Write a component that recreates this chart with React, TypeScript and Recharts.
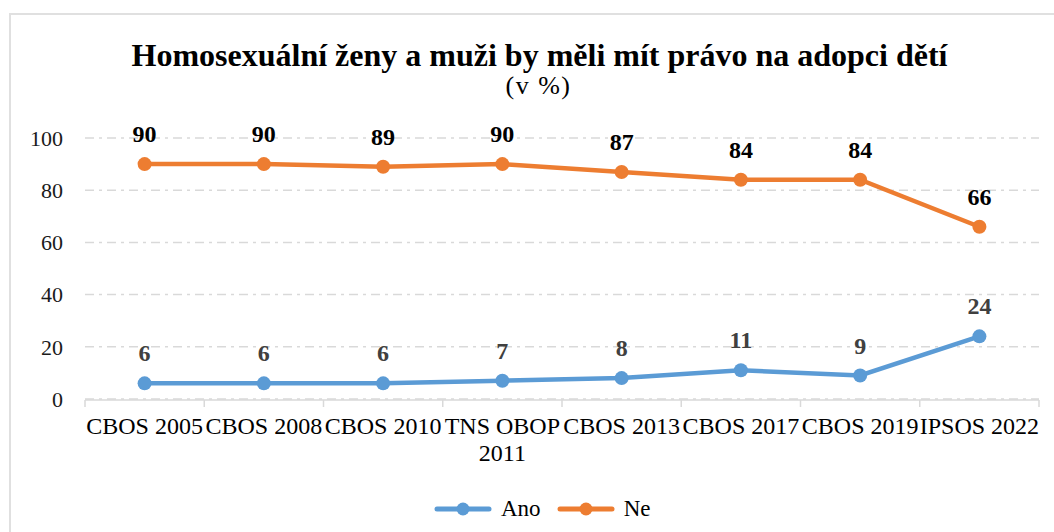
import React from 'react';
import { LineChart, Line, XAxis, YAxis, CartesianGrid, Legend, LabelList } from 'recharts';

const categories = ['CBOS 2005', 'CBOS 2008', 'CBOS 2010', 'TNS OBOP 2011', 'CBOS 2013', 'CBOS 2017', 'CBOS 2019', 'IPSOS 2022'];
const anoValues = [6, 6, 6, 7, 8, 11, 9, 24];
const neValues = [90, 90, 89, 90, 87, 84, 84, 66];
const yTicks = [0, 20, 40, 60, 80, 100];
const edgeTicks = [0, 1, 2, 3, 4, 5, 6, 7, 8];

const seriesNames = { ano: 'Ano', ne: 'Ne' };
const BLUE = '#5B9BD5';
const ORANGE = '#ED7D31';
const FONT = '"Liberation Serif", "Times New Roman", serif';
const CAT_FONT_SIZE = 24;

const data = categories.map((c, i) => ({ category: c, ano: anoValues[i], ne: neValues[i] }));

let measureCtx: CanvasRenderingContext2D | null = null;
const measure = (s: string) => {
  if (!measureCtx) {
    const c = document.createElement('canvas');
    measureCtx = c.getContext('2d');
  }
  if (!measureCtx) return s.length * CAT_FONT_SIZE * 0.5;
  measureCtx.font = `${CAT_FONT_SIZE}px ${FONT}`;
  return measureCtx.measureText(s).width;
};

const wrapWords = (s: string, maxW: number) => {
  const words = s.split(' ');
  const lines: string[] = [];
  let cur = '';
  words.forEach((w) => {
    const cand = cur ? cur + ' ' + w : w;
    if (cur && measure(cand) > maxW) {
      lines.push(cur);
      cur = w;
    } else {
      cur = cand;
    }
  });
  if (cur) lines.push(cur);
  return lines;
};

const CatTick = (props: any) => {
  const { x, y, payload } = props;
  const lines = wrapWords(String(payload.value), 124);
  return (
    <text x={x} y={y} textAnchor="middle" fontSize={CAT_FONT_SIZE} fontFamily={FONT} fill="#000">
      {lines.map((l, i) => (
        <tspan key={i} x={x} dy={i === 0 ? 17 : 27}>
          {l}
        </tspan>
      ))}
    </text>
  );
};

const EmptyTick = () => <g />;

const makeLabel = (color: string) => (props: any) => {
  const { x, y, value } = props;
  return (
    <text x={x} y={y - 30} textAnchor="middle" dominantBaseline="central" fontSize={24} fontWeight="bold" fontFamily={FONT} fill={color}>
      {value}
    </text>
  );
};

const LegendContent = (props: any) => {
  const { payload } = props;
  return (
    <div style={{ display: 'flex', alignItems: 'center', fontFamily: FONT, fontSize: 23, color: '#000', whiteSpace: 'nowrap' }}>
      {payload.map((p: any) => (
        <div key={p.value} style={{ display: 'flex', alignItems: 'center', marginRight: 16 }}>
          <svg width={58} height={20} style={{ display: 'block' }}>
            <line x1={3} y1={10} x2={55} y2={10} stroke={p.color} strokeWidth={5} strokeLinecap="round" />
            <circle cx={29} cy={10} r={6.5} fill={p.color} />
          </svg>
          <span style={{ marginLeft: 9 }}>{p.value}</span>
        </div>
      ))}
    </div>
  );
};

export default function App() {
  return (
    <div style={{ position: 'absolute', left: 0, top: 0, width: 1054, height: 532, overflow: 'hidden', background: '#fff' }}>
      <div style={{ position: 'absolute', left: 9, top: 13, width: 1200, height: 700, border: '2px solid #e0e0e0', boxSizing: 'border-box' }} />
      <div style={{ position: 'absolute', left: 0, top: 39, width: 1079, textAlign: 'center', fontFamily: FONT, fontWeight: 'bold', fontSize: 32, lineHeight: '32px', color: '#000', whiteSpace: 'nowrap' }}>
        Homosexuální ženy a muži by měli mít právo na adopci dětí
      </div>
      <div style={{ position: 'absolute', left: 0, top: 73, width: 1077, textAlign: 'center', fontFamily: FONT, fontSize: 26, lineHeight: '26px', color: '#000', letterSpacing: 1.5, whiteSpace: 'pre' }}>
        (v %)
      </div>
      <div style={{ position: 'absolute', left: 0, top: 0 }}>
        <LineChart width={1054} height={532} data={data} margin={{ top: 138, right: 15, bottom: 73, left: 0 }}>
          <CartesianGrid vertical={false} stroke="#d9d9d9" strokeWidth={1.5} strokeDasharray="9 5 3 5" />
          <XAxis
            dataKey="category"
            axisLine={false}
            tickLine={false}
            interval={0}
            tick={<CatTick />}
            tickMargin={12}
            padding={{ left: 59.6, right: 59.6 }}
            height={1}
          />
          <XAxis
            xAxisId="edge"
            dataKey="edge"
            type="number"
            domain={[0, categories.length]}
            ticks={edgeTicks}
            allowDataOverflow
            tick={<EmptyTick />}
            tickSize={7}
            tickLine={{ stroke: '#d9d9d9', strokeWidth: 1.5 }}
            axisLine={{ stroke: '#d9d9d9', strokeWidth: 1.5 }}
            height={59}
          />
          <YAxis
            domain={[0, 100]}
            ticks={yTicks}
            width={85}
            axisLine={false}
            tickLine={false}
            tickMargin={16}
            tick={{ fontSize: 22, fontFamily: FONT, fill: '#1a1a1a' }}
          />
          <Legend
            verticalAlign="middle"
            align="center"
            layout="horizontal"
            content={<LegendContent />}
            wrapperStyle={{ top: 496, left: 434, width: 'auto' }}
          />
          <Line
            dataKey="ano"
            name={seriesNames.ano}
            stroke={BLUE}
            strokeWidth={4.5}
            dot={{ r: 7, fill: BLUE, stroke: BLUE, strokeWidth: 0 }}
            activeDot={false}
            isAnimationActive={false}
          >
            <LabelList dataKey="ano" content={makeLabel('#404040')} />
          </Line>
          <Line
            dataKey="ne"
            name={seriesNames.ne}
            stroke={ORANGE}
            strokeWidth={4.5}
            dot={{ r: 7, fill: ORANGE, stroke: ORANGE, strokeWidth: 0 }}
            activeDot={false}
            isAnimationActive={false}
          >
            <LabelList dataKey="ne" content={makeLabel('#000')} />
          </Line>
        </LineChart>
      </div>
    </div>
  );
}
